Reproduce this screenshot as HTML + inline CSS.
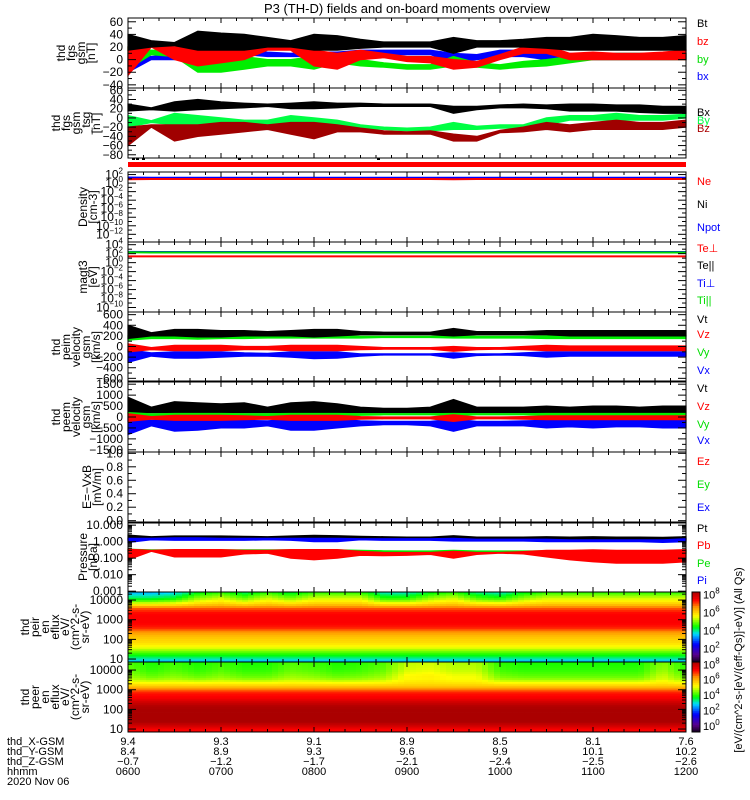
<!DOCTYPE html>
<html><head><meta charset="utf-8"><style>
html,body{margin:0;padding:0;background:#fff;}
svg{display:block;font-family:"Liberation Sans",sans-serif;}
</style></head><body>
<svg id="chart" width="750" height="800" viewBox="0 0 750 800" xmlns="http://www.w3.org/2000/svg">
<text x="407" y="13" font-size="13" text-anchor="middle">P3 (TH-D) fields and on-board moments overview</text>
</svg>
<script>
// ---- time bins (hours after 0600, every 15 min) ----
const hours=[0,0.25,0.5,0.75,1,1.25,1.5,1.75,2,2.25,2.5,2.75,3,3.25,3.5,3.75,4,4.25,4.5,4.75,5,5.25,5.5,5.75,6];
// panel 1 fgs gsm (nT)
const btLo=[15,20,22,15,15,15,20,20,15,15,18,20,20,20,10,20,20,20,18,15,15,15,15,15,15];
const btHi=[40,30,27,45,42,40,35,30,40,38,32,28,28,28,35,30,30,32,35,35,40,38,35,35,38];
const bzLo=[-25,20,0,-10,-5,0,15,15,-10,-15,0,3,-3,-5,-15,-12,0,10,10,0,0,0,0,0,0];
const bzHi=[20,25,20,20,20,25,25,25,15,10,15,10,5,5,0,-3,8,20,22,10,12,10,10,12,15];
const byLo=[-15,8,5,-20,-20,-15,-10,-10,-15,-5,-10,-12,-15,-15,-10,-12,-15,-12,-10,-5,0,0,0,0,0];
const byHi=[20,15,15,10,5,5,0,0,5,5,0,-5,-8,-8,5,-5,-8,-3,0,5,8,10,10,10,10];
const bxLo=[-20,0,0,0,5,8,5,5,5,5,8,8,8,8,-5,0,5,5,0,0,0,0,0,0,0];
const bxHi=[10,5,8,15,15,15,12,10,12,12,15,15,15,15,10,8,15,15,10,10,8,10,10,10,10];
// panel 2
const BxLo=[15,18,15,18,20,22,25,20,20,22,25,25,25,25,10,18,22,22,20,15,15,15,12,10,10];
const BxHi=[30,22,35,40,35,32,30,32,35,32,32,30,30,30,25,25,28,30,28,30,30,28,28,25,25];
const ByLo=[-20,-10,-15,-20,-20,-15,-15,-20,-20,-15,-22,-25,-28,-28,-25,-25,-22,-22,-15,-5,-5,-5,-5,-5,0];
const ByHi=[5,-6,10,5,0,-5,-5,5,0,-5,-15,-20,-22,-20,-10,-18,-15,-15,0,5,5,10,5,5,8];
const BzLo=[-60,-20,-50,-40,-35,-30,-25,-35,-45,-30,-30,-35,-35,-35,-50,-50,-32,-30,-25,-30,-25,-25,-25,-25,-20];
const BzHi=[-20,-15,-15,-15,-10,-10,-15,-10,-10,-15,-22,-28,-30,-28,-35,-40,-27,-20,-10,-15,-10,-5,-10,-10,-5];
// density (cm-3) & temperature (eV)
const neVal=[8,9,9,9,9,9,9,9,9,9,9,9,9,9,8,9,9,9,9,9,9,9,9,9,9];
const npotVal=[20,18,18,18,18,18,18,18,18,18,18,18,18,18,18,18,18,18,18,18,18,18,18,18,18];
const teVal=[25,25,25,25,25,25,25,25,25,25,25,25,25,25,25,25,25,25,25,25,25,25,25,25,25];
const tiVal=[250,230,230,230,230,230,230,230,230,230,230,230,230,230,230,230,230,230,230,230,230,230,230,230,230];
// peim velocity
const pVtLo=[150,200,200,180,180,200,200,200,180,200,220,220,220,220,200,220,220,220,220,200,200,200,200,200,200];
const pVtHi=[400,260,320,320,300,300,280,300,320,320,280,270,270,270,340,280,280,280,300,300,300,300,300,300,300];
const pVyLo=[120,150,150,140,150,150,160,160,160,160,160,170,170,170,160,160,160,160,150,150,150,150,150,150,150];
const pVyHi=[200,190,190,200,200,190,190,200,200,200,190,190,190,190,200,190,190,190,200,200,200,200,200,200,200];
const pVzLo=[-100,-60,-80,-80,-80,-60,-60,-80,-80,-80,-60,-50,-50,-50,-90,-60,-50,-60,-80,-80,-80,-80,-80,-80,-80];
const pVzHi=[50,-20,20,20,20,0,0,20,20,20,0,-20,-20,-20,0,-20,-20,0,20,10,10,10,10,10,10];
const pVxLo=[-300,-180,-220,-220,-200,-180,-180,-200,-230,-220,-180,-160,-160,-160,-220,-170,-160,-170,-200,-180,-180,-180,-180,-180,-180];
const pVxHi=[-60,-120,-100,-100,-100,-120,-130,-100,-100,-100,-140,-140,-140,-140,-120,-140,-140,-120,-100,-100,-100,-100,-100,-100,-100];
// peem velocity
const eVtLo=[200,200,200,200,200,200,200,200,200,200,200,200,200,200,200,200,200,200,200,200,200,200,200,200,200];
const eVtHi=[900,450,700,650,600,650,450,650,700,600,450,400,400,450,800,450,450,450,500,450,500,500,450,500,500];
const eVyLo=[0,60,50,50,50,60,80,60,50,50,80,100,100,100,60,100,100,100,80,80,80,80,80,80,80];
const eVyHi=[200,140,160,160,160,150,150,160,160,160,150,150,150,150,160,150,150,150,160,160,160,160,160,160,160];
const eVzLo=[-200,-100,-150,-150,-150,-120,-100,-150,-150,-150,-100,-80,-80,-80,-200,-80,-80,-100,-120,-120,-120,-120,-120,-120,-120];
const eVzHi=[150,20,80,80,80,50,20,80,80,80,20,0,0,0,100,0,0,20,50,50,50,50,50,50,50];
const eVxLo=[-800,-400,-650,-600,-500,-500,-400,-600,-600,-500,-400,-350,-350,-400,-650,-400,-400,-400,-500,-450,-500,-450,-450,-500,-500];
const eVxHi=[-50,-150,-100,-100,-100,-150,-180,-100,-100,-100,-180,-200,-200,-200,-100,-200,-200,-180,-150,-150,-150,-150,-150,-150,-150];
// pressure (nPa)
const ptLo=[1.3,1.7,1.5,1.5,1.5,1.6,1.6,1.5,1.4,1.4,1.7,1.6,1.6,1.6,1.5,1.5,1.5,1.5,1.4,1.3,1.3,1.3,1.3,1.3,1.3];
const ptHi=[2.5,2.0,2.2,2.2,2.2,2.1,2.0,2.2,2.4,2.3,2.1,2.0,1.9,1.9,2.3,1.9,1.9,1.9,2.0,1.9,2.0,1.9,1.9,1.8,2.0];
const piLo=[0.9,1.3,1.2,1.2,1.2,1.2,1.3,1.2,1.0,1.0,1.3,1.2,1.2,1.2,1.1,1.1,1.1,1.1,1.0,1.0,1.0,1.0,1.0,0.9,1.0];
const piHi=[1.6,1.6,1.7,1.7,1.6,1.6,1.6,1.6,1.6,1.6,1.5,1.5,1.5,1.5,1.6,1.4,1.4,1.4,1.4,1.3,1.3,1.3,1.3,1.3,1.5];
const peLo=[0.25,0.28,0.28,0.27,0.27,0.27,0.28,0.28,0.28,0.28,0.25,0.23,0.22,0.22,0.23,0.22,0.22,0.22,0.22,0.22,0.2,0.2,0.2,0.2,0.2];
const peHi=[0.35,0.32,0.32,0.32,0.32,0.32,0.32,0.32,0.32,0.32,0.3,0.28,0.27,0.27,0.3,0.27,0.27,0.27,0.28,0.28,0.25,0.25,0.25,0.25,0.3];
const pbLo=[0.08,0.26,0.12,0.12,0.12,0.18,0.2,0.1,0.08,0.1,0.15,0.14,0.15,0.17,0.1,0.17,0.2,0.18,0.12,0.08,0.06,0.05,0.05,0.05,0.06];
const pbHi=[0.35,0.3,0.33,0.33,0.33,0.3,0.3,0.33,0.33,0.33,0.26,0.22,0.22,0.22,0.26,0.22,0.22,0.25,0.3,0.3,0.32,0.3,0.3,0.3,0.33];
// spectrograms: energy channels (eV) and log10 eflux
const specE=[7,10,15,25,40,70,100,150,250,400,700,1000,1500,2500,4000,6000,10000,20000,30000];
const peirFlux=[3.3,3.8,4.3,4.9,5.5,5.9,6.0,6.2,6.6,7.2,7.4,7.4,7.4,7.3,6.9,6.2,5.6,4.9,4.3];
const peerFlux=[7.2,7.3,7.8,8.3,8.3,8.3,8.3,8.2,7.8,7.3,7.1,6.6,5.8,5.0,4.4,4.2,4.0,3.9,3.8];
const peirHiMod=[-1.2,-1.2,-1.0,-0.3,0,-0.5,0,-0.4,0,0,0,-0.8,-0.8,-0.3,0,-0.6,-0.8,-0.3,0,0,0,0,0,0,0];
const peerHiMod=[0.3,0,0.2,0,0.2,0,0,0.3,0.2,0,0.1,0.3,0.9,1.0,0.8,0.8,0.1,0,0,0,0,0,0,0.6,0];
// ephemeris / time axis labels
const hhmm=["0600","0700","0800","0900","1000","1100","1200"];
const xgsm=["9.4","9.3","9.1","8.9","8.5","8.1","7.6"];
const ygsm=["8.4","8.9","9.3","9.6","9.9","10.1","10.2"];
const zgsm=["-0.7","-1.2","-1.7","-2.1","-2.4","-2.5","-2.6"];

const NS="http://www.w3.org/2000/svg";
const svg=document.getElementById('chart');
const X0=128,X1=686;
function tx(h){return X0+h/6*(X1-X0);}
function mk(tag,attrs,parent){const e=document.createElementNS(NS,tag);for(const k in attrs)e.setAttribute(k,attrs[k]);(parent||svg).appendChild(e);return e;}
function linY(y0,y1,v0,v1){return v=>y1-(v-v0)/(v1-v0)*(y1-y0);}
function logY(y0,y1,l0,l1){return v=>y1-(Math.log10(v)-l0)/(l1-l0)*(y1-y0);}
function txt(x,y,s,opt){const t=mk('text',Object.assign({x:x,y:y,'font-size':11},opt||{}));t.textContent=s;return t;}

function band(lo,hi,fy,color,name){
  let pts=[];
  for(let i=0;i<hours.length;i++)pts.push(tx(hours[i]).toFixed(1)+','+fy(hi[i]).toFixed(1));
  for(let i=hours.length-1;i>=0;i--)pts.push(tx(hours[i]).toFixed(1)+','+fy(lo[i]).toFixed(1));
  const p=mk('polygon',{points:pts.join(' '),fill:color,stroke:color,'stroke-width':1.2});
  
  
}
function line(vals,fy,color,name){
  const pts=hours.map((h,i)=>tx(h).toFixed(1)+','+fy(vals[i]).toFixed(1)).join(' ');
  const p=mk('polyline',{points:pts,fill:'none',stroke:color,'stroke-width':2});
  
  
}
function frame(y0,y1,name){
  const g=mk('g',{});
  
  
  mk('rect',{x:X0,y:y0,width:X1-X0,height:y1-y0,fill:'none',stroke:'#000','stroke-width':1},g);
  for(let m=0;m<=36;m++){const x=X0+m*(X1-X0)/36;const L=(m%6==0)?5:3;
    mk('line',{x1:x,x2:x,y1:y0,y2:y0+L,stroke:'#000'},g);mk('line',{x1:x,x2:x,y1:y1,y2:y1-L,stroke:'#000'},g);}
  return g;
}
function yticks(g,ys,labels,minor){
  ys.forEach((y,i)=>{mk('line',{x1:X0,x2:X0+8,y1:y,y2:y,stroke:'#000'},g);mk('line',{x1:X1,x2:X1-8,y1:y,y2:y,stroke:'#000'},g);
    if(labels[i]!==null){txt(123,y+4,labels[i],{'text-anchor':'end','font-size':12});}});
  (minor||[]).forEach(y=>{mk('line',{x1:X0,x2:X0+4,y1:y,y2:y,stroke:'#000'},g);mk('line',{x1:X1,x2:X1-4,y1:y,y2:y,stroke:'#000'},g);});
}
function powLabel(y,exp){
  const t=mk('text',{x:123,y:y+4,'font-size':12,'text-anchor':'end'});
  t.appendChild(document.createTextNode('10'));
  const s=mk('tspan',{dy:-5,'font-size':8},t);s.textContent=exp;
}
function ylabel(cx,cy,lines,name){
  const g=mk('g',{});
  
  
  const n=lines.length;
  lines.forEach((s,i)=>{const bx=cx+(i-(n-1)/2)*10+4;
    const t=mk('text',{x:0,y:0,'font-size':12,'text-anchor':'middle',transform:`translate(${bx},${cy}) rotate(-90)`},g);t.textContent=s;});
}
function legend(x,y,s,color,name){const t=txt(x,y,s,{fill:color,'font-size':11});
  }

// ---- Panel 1 ----
{const y0=18,y1=88;const fy=linY(y0,y1,-45,66);
 band(bxLo,bxHi,fy,'#0000ff','series-bx');band(byLo,byHi,fy,'#00ee00','series-by');band(bzLo,bzHi,fy,'#ff0000','series-bz');band(btLo,btHi,fy,'#000','series-bt');
 const g=frame(y0,y1,'panel-fgs-gsm');
 const vals=[60,40,20,0,-20,-40];yticks(g,vals.map(fy),vals.map(v=>v<0?'\u2212'+(-v):''+v),[50,30,10,-10,-30].map(fy));
 ylabel(76,53,['thd','fgs','gsm','[nT]'],'fgs-gsm-axis-title');
 legend(697,27,'Bt','#000','legend-bt');legend(697,45,'bz','#f00','legend-bz');legend(697,63,'by','#0d0','legend-by');legend(697,80,'bx','#00f','legend-bx');}
// ---- Panel 2 ----
{const y0=88,y1=158;const fy=linY(y0,y1,-87,65);
 band(ByLo,ByHi,fy,'#00ff44','series-By');band(BzLo,BzHi,fy,'#a00000','series-Bz');band(BxLo,BxHi,fy,'#000','series-Bx');
 const g=frame(y0,y1,'panel-fgs-gsm-tsg');
 const vals=[60,40,20,0,-20,-40,-60,-80];yticks(g,vals.map(fy),vals.map(v=>v<0?'\u2212'+(-v):''+v),[50,30,10,-10,-30,-50,-70].map(fy));
 ylabel(76,123,['thd','fgs','gsm','_tsg','[nT]'],'fgs-tsg-axis-title');
 legend(697,116,'Bx','#000','legend-Bx');legend(697,124,'By','#0f4','legend-By');legend(697,132,'Bz','#a00','legend-Bz');}
// flag bar
{const r=mk('rect',{x:X0,y:162,width:X1-X0,height:5,fill:'#ff0000'});
 
 [132,136,142,238,377].forEach(x=>mk('rect',{x:x,y:158,width:3,height:2,fill:'#000'}));}
// ---- Density ----
{const y0=172,y1=242;const fy=logY(y0,y1,-13.8,2.6);
 line(npotVal,fy,'#0000ff','series-npot');line(neVal,fy,'#ff0000','series-ne');
 const g=frame(y0,y1,'panel-density');
 const ex=[2,0,-2,-4,-6,-8,-10,-12];yticks(g,ex.map(e=>fy(Math.pow(10,e))),ex.map(()=>null),[1,-1,-3,-5,-7,-9,-11,-13].map(e=>fy(Math.pow(10,e))));
 ex.forEach(e=>powLabel(fy(Math.pow(10,e)),e<0?'\u2212'+(-e):''+e));
 ylabel(88,207,['Density','[cm-3]'],'density-axis-title');
 legend(697,185,'Ne','#f00','legend-ne');legend(697,208,'Ni','#000','legend-ni');legend(697,231,'Npot','#00f','legend-npot');}
// ---- Temperature ----
{const y0=242,y1=312;const fy=logY(y0,y1,-11,4.6);
 line(tiVal,fy,'#0000ff','series-ti');line(tiVal.map(v=>v*0.8),fy,'#00dd00','series-ti-par');line(teVal,fy,'#ff0000','series-te');
 const g=frame(y0,y1,'panel-temperature');
 const ex=[4,2,0,-2,-4,-6,-8,-10];yticks(g,ex.map(e=>fy(Math.pow(10,e))),ex.map(()=>null),[3,1,-1,-3,-5,-7,-9].map(e=>fy(Math.pow(10,e))));
 ex.forEach(e=>powLabel(fy(Math.pow(10,e)),e<0?'\u2212'+(-e):''+e));
 ylabel(88,277,['magt3','[eV]'],'temperature-axis-title');
 legend(697,252,'Te\u22a5','#f00','legend-te-perp');legend(697,269,'Te||','#000','legend-te-par');legend(697,287,'Ti\u22a5','#00f','legend-ti-perp');legend(697,304,'Ti||','#0d0','legend-ti-par');}
// ---- peim velocity ----
{const y0=312,y1=381;const fy=linY(y0,y1,-650,650);
 band(pVxLo,pVxHi,fy,'#0000ff','series-peim-vx');band(pVzLo,pVzHi,fy,'#ff0000','series-peim-vz');band(pVyLo,pVyHi,fy,'#00ee00','series-peim-vy');band(pVtLo,pVtHi,fy,'#000','series-peim-vt');
 const g=frame(y0,y1,'panel-peim-velocity');
 const vals=[600,400,200,0,-200,-400,-600];yticks(g,vals.map(fy),vals.map(v=>v<0?'\u2212'+(-v):''+v),[500,300,100,-100,-300,-500].map(fy));
 ylabel(76,347,['thd','peim','velocity','gsm','[km/s]'],'peim-velocity-axis-title');
 legend(697,323,'Vt','#000','legend-peim-vt');legend(697,338,'Vz','#f00','legend-peim-vz');legend(697,356,'Vy','#0d0','legend-peim-vy');legend(697,374,'Vx','#00f','legend-peim-vx');}
// ---- peem velocity ----
{const y0=382,y1=452;const fy=linY(y0,y1,-1600,1600);
 band(eVxLo,eVxHi,fy,'#0000ff','series-peem-vx');band(eVtLo,eVtHi,fy,'#000','series-peem-vt');band(eVyLo,eVyHi,fy,'#00ee00','series-peem-vy');band(eVzLo,eVzHi,fy,'#ff0000','series-peem-vz');
 const g=frame(y0,y1,'panel-peem-velocity');
 const vals=[1500,1000,500,0,-500,-1000,-1500];yticks(g,vals.map(fy),vals.map(v=>v<0?'\u2212'+(-v):''+v),[1250,750,250,-250,-750,-1250].map(fy));
 ylabel(76,417,['thd','peem','velocity','gsm','[km/s]'],'peem-velocity-axis-title');
 legend(697,392,'Vt','#000','legend-peem-vt');legend(697,410,'Vz','#f00','legend-peem-vz');legend(697,428,'Vy','#0d0','legend-peem-vy');legend(697,444,'Vx','#00f','legend-peem-vx');}
// ---- E field ----
{const y0=452,y1=522;const fy=linY(y0,y1,-0.02,1.02);
 const g=frame(y0,y1,'panel-e-field');
 const vals=[1,0.8,0.6,0.4,0.2,0];yticks(g,vals.map(fy),vals.map(v=>v.toFixed(1)),[0.9,0.7,0.5,0.3,0.1].map(fy));
 ylabel(92,487,['E=\u2212VxB','[mV/m]'],'e-field-axis-title');
 legend(697,465,'Ez','#f00','legend-ez');legend(697,488,'Ey','#0d0','legend-ey');legend(697,511,'Ex','#00f','legend-ex');}
// ---- Pressure ----
{const y0=523,y1=592;const fy=logY(y0,y1,-3.05,1.13);
 band(peLo,peHi,fy,'#00ee00','series-pe');band(pbLo,pbHi,fy,'#ff0000','series-pb');band(ptLo,ptHi,fy,'#000','series-pt');band(piLo,piHi,fy,'#0000ff','series-pi');
 const g=frame(y0,y1,'panel-pressure');
 const ex=[1,0,-1,-2,-3];yticks(g,ex.map(e=>fy(Math.pow(10,e))),['10.000','1.000','0.100','0.010','0.001']);
 const mn=[];for(let e=-3;e<1;e++)for(let k=2;k<10;k++)mn.push(fy(k*Math.pow(10,e)));yticks(g,[],[],mn);
 ylabel(88,557,['Pressure','[nPa]'],'pressure-axis-title');
 legend(697,532,'Pt','#000','legend-pt');legend(697,549,'Pb','#f00','legend-pb');legend(697,567,'Pe','#0d0','legend-pe');legend(697,584,'Pi','#00f','legend-pi');}

// ---- colormap ----
const cstops=[[0,[20,0,30]],[0.1,[90,0,140]],[0.25,[0,0,255]],[0.4,[0,220,255]],[0.5,[0,255,0]],[0.65,[255,255,0]],[0.78,[255,150,0]],[0.88,[255,0,0]],[1,[170,0,0]]];
function cmap(t){t=Math.max(0,Math.min(1,t));for(let i=1;i<cstops.length;i++){if(t<=cstops[i][0]){const a=cstops[i-1],b=cstops[i];const f=(t-a[0])/(b[0]-a[0]);
  const c=a[1].map((v,k)=>Math.round(v+(b[1][k]-v)*f));return `rgb(${c[0]},${c[1]},${c[2]})`;}}return 'rgb(170,0,0)';}
function interpFlux(prof,le){const L=specE.map(v=>Math.log10(v));if(le<=L[0])return prof[0];for(let i=1;i<L.length;i++)if(le<=L[i]){const f=(le-L[i-1])/(L[i]-L[i-1]);return prof[i-1]+(prof[i]-prof[i-1])*f;}return prof[prof.length-1];}
function interpT(arr,h){const i=Math.min(arr.length-2,Math.floor(h/0.25));const f=(h-hours[i])/0.25;return arr[i]+(arr[i+1]-arr[i])*f;}
function spec(y0,y1,prof,mod,modStart,cmin,cmax,name,cbname){
  const fy=logY(y0,y1,0.85,4.41);
  const g=mk('g',{});
  const ncol=93,nrow=36;const w=(X1-X0)/ncol;
  for(let c=0;c<ncol;c++){const h=(c+0.5)/ncol*6;const m=interpT(mod,h);
    for(let r=0;r<nrow;r++){const le=0.85+(r+0.5)/nrow*(4.41-0.85);
      let v=interpFlux(prof,le);if(le>=modStart)v+=m*Math.min(1,(le-modStart)/0.5);
      const yA=fy(Math.pow(10,0.85+(r+1)/nrow*(4.41-0.85))),yB=fy(Math.pow(10,0.85+r/nrow*(4.41-0.85)));
      mk('rect',{x:(X0+c*w).toFixed(2),y:yA.toFixed(2),width:(w+0.4).toFixed(2),height:(yB-yA+0.4).toFixed(2),fill:cmap((v-cmin)/(cmax-cmin))},g);}}
  const fr=frame(y0,y1,name+'-frame');
  const vals=[10000,1000,100,10];yticks(fr,vals.map(fy),vals.map(String));
  const mn=[];for(let e=1;e<5;e++)for(let k=2;k<10;k++){const v=k*Math.pow(10,e);if(v<25000)mn.push(fy(v));}yticks(fr,[],[],mn);
  const cb=mk('g',{});
  const n=40;for(let i=0;i<n;i++){mk('rect',{x:692,y:(y0+i*(y1-y0)/n).toFixed(2),width:8,height:((y1-y0)/n+0.4).toFixed(2),fill:cmap(1-(i+0.5)/n)},cb);}
  mk('rect',{x:692,y:y0,width:8,height:y1-y0,fill:'none',stroke:'#000'},cb);
  return cb;
}
{const cb=spec(592,662,peirFlux,peirHiMod,3.6,0.5,8.3,'spectrogram-peir','colorbar-peir');
 const fc=v=>662-(v-0.5)/(8.3-0.5)*70;
 [8,6,4,2].forEach(e=>{const t=mk('text',{x:703,y:fc(e)+4,'font-size':11},cb);t.appendChild(document.createTextNode('10'));const s=mk('tspan',{dy:-5,'font-size':8},t);s.textContent=e;});
 ylabel(55,627,['thd','peir','en','eflux','eV/','(cm^2-s-','sr-eV)'],'peir-axis-title');}
{const cb=spec(662,732,peerFlux,peerHiMod,3.2,-0.8,8.3,'spectrogram-peer','colorbar-peer');
 const fc=v=>732-(v+0.8)/(8.3+0.8)*70;
 [8,6,4,2,0].forEach(e=>{const t=mk('text',{x:703,y:fc(e)+4,'font-size':11},cb);t.appendChild(document.createTextNode('10'));const s=mk('tspan',{dy:-5,'font-size':8},t);s.textContent=e;});
 ylabel(55,697,['thd','peer','en','eflux','eV/','(cm^2-s-','sr-eV)'],'peer-axis-title');}
// colorbar unit label
{const t=mk('text',{x:0,y:0,'font-size':11,'text-anchor':'middle',transform:'translate(742,660) rotate(-90)'});
 t.textContent='[eV/(cm^2-s-[eV/(eff-Qs)]-eV)] (All Qs)';
 }
// ---- bottom ephemeris labels ----
{const rows=[['thd_X-GSM',xgsm,745],['thd_Y-GSM',ygsm,755],['thd_Z-GSM',zgsm,765],['hhmm',hhmm,775]];
 rows.forEach((r,ri)=>{const n=txt(7,r[2],r[0],{'font-size':11});
   r[1].forEach((s,i)=>{const t=txt(tx(i),r[2],s.replace('-','\u2212'),{'font-size':11,'text-anchor':'middle'});
     });});
 const d=txt(7,785,'2020 Nov 06',{'font-size':11});}
</script>
</body></html>
